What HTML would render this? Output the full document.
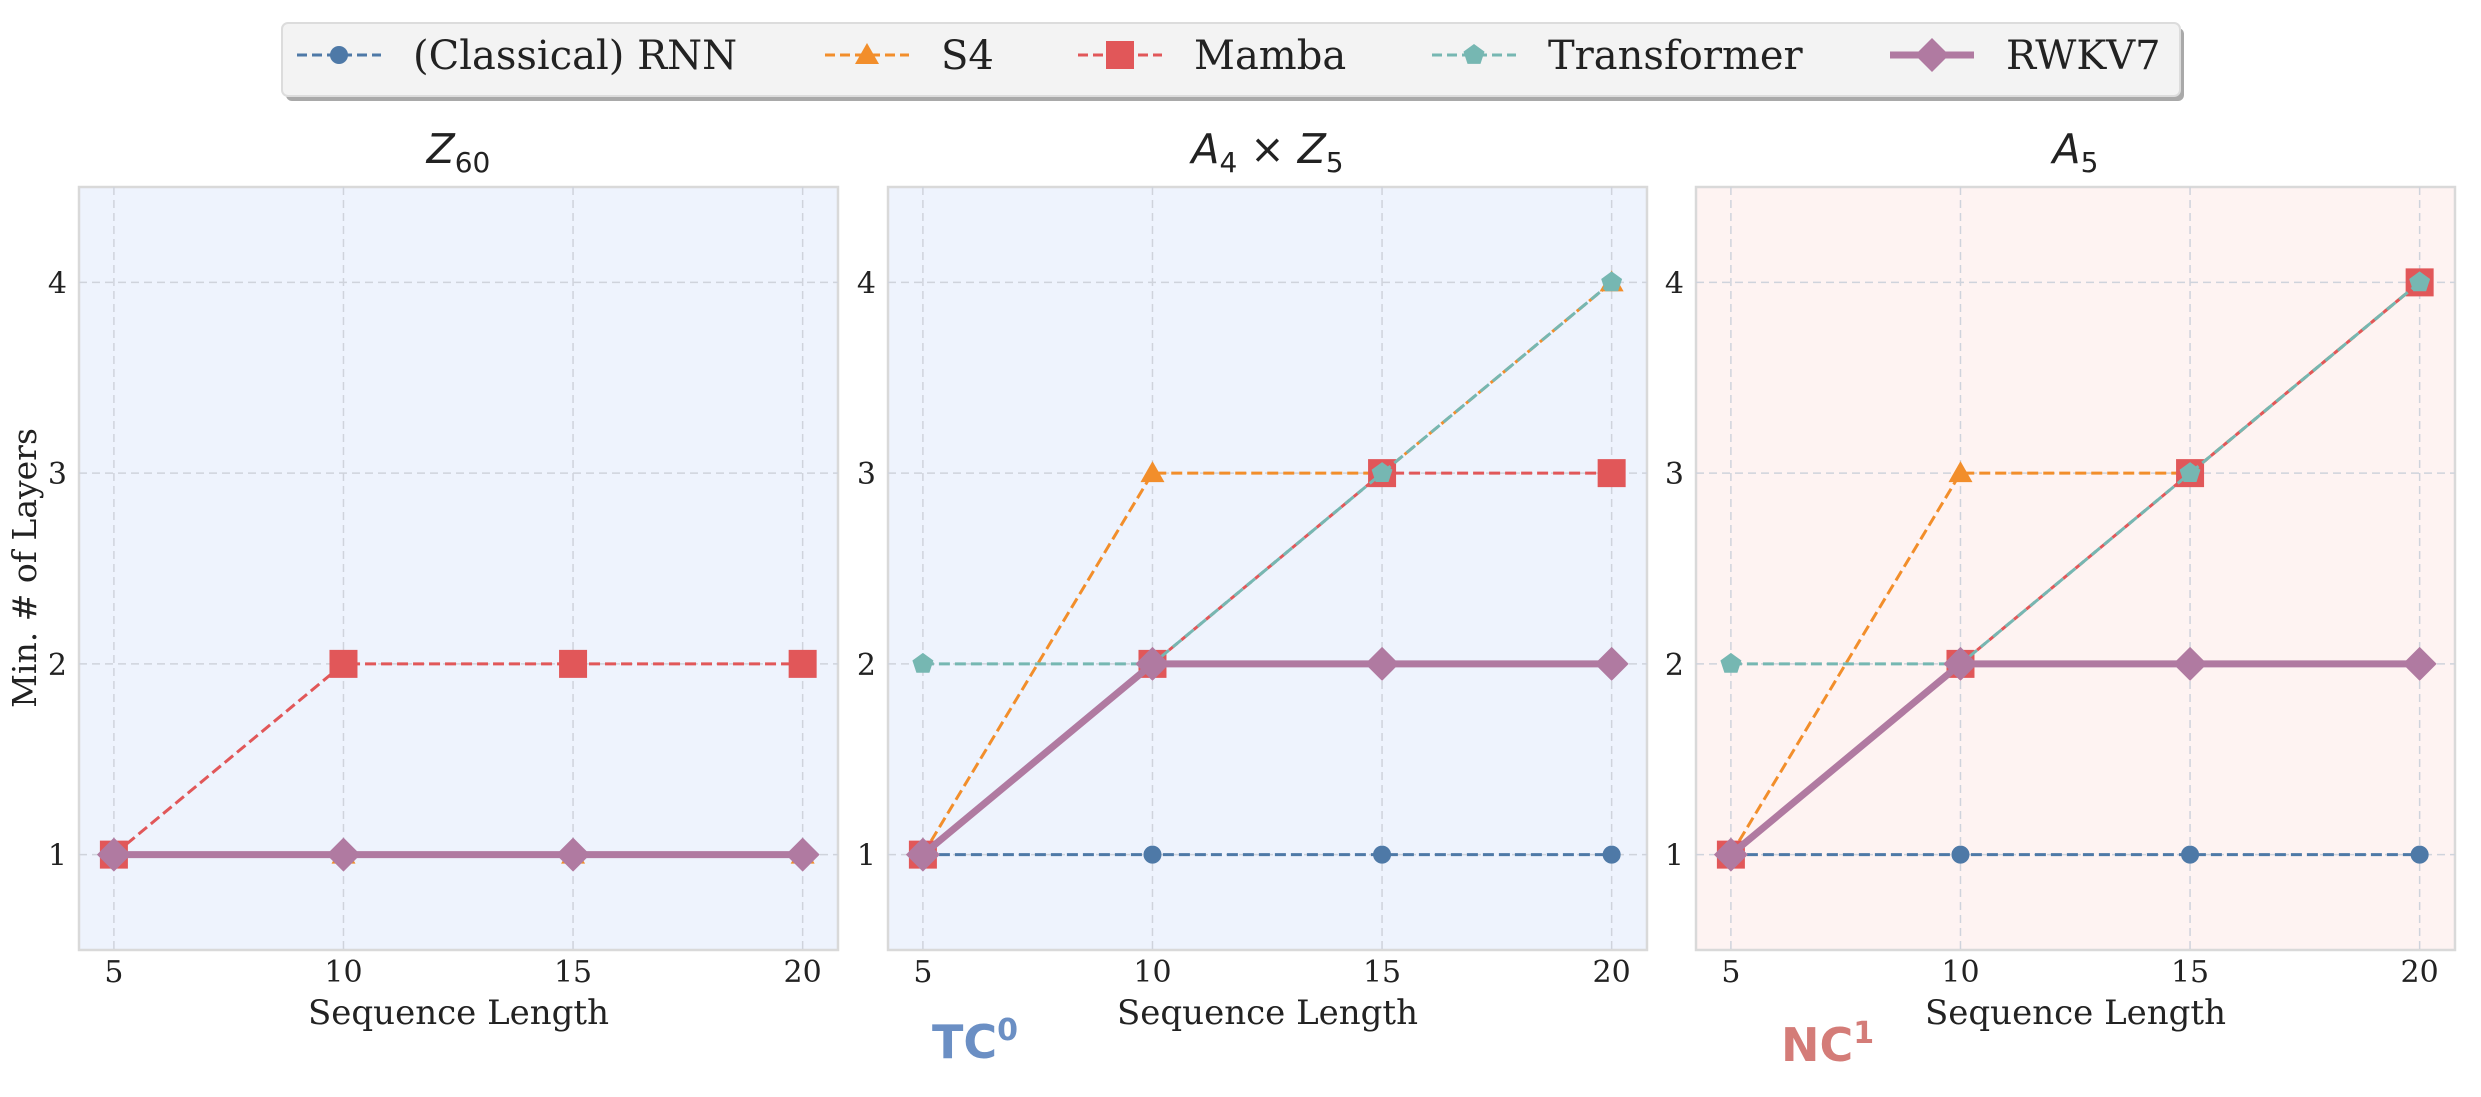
<!DOCTYPE html>
<html><head><meta charset="utf-8"><style>
body{margin:0;background:#fff;}
svg{display:block;}
</style></head><body>
<svg id="chart" width="2481" height="1097" viewBox="0 0 2481 1097" xmlns="http://www.w3.org/2000/svg"></svg>
<script>
const xCategories = [5, 10, 15, 20];
const yTicks = [1, 2, 3, 4];
const panelTitles = ["Z60", "A4xZ5", "A5"];
const seriesNames = ["(Classical) RNN", "S4", "Mamba", "Transformer", "RWKV7"];
const rnnZ60 = [1, 1, 1, 1];
const s4Z60 = [1, 1, 1, 1];
const mambaZ60 = [1, 2, 2, 2];
const transformerZ60 = [1, 1, 1, 1];
const rwkvZ60 = [1, 1, 1, 1];
const rnnA4Z5 = [1, 1, 1, 1];
const s4A4Z5 = [1, 3, 3, 4];
const mambaA4Z5 = [1, 2, 3, 3];
const transformerA4Z5 = [2, 2, 3, 4];
const rwkvA4Z5 = [1, 2, 2, 2];
const rnnA5 = [1, 1, 1, 1];
const s4A5 = [1, 3, 3, 4];
const mambaA5 = [1, 2, 3, 4];
const transformerA5 = [2, 2, 3, 4];
const rwkvA5 = [1, 2, 2, 2];

const NS = "http://www.w3.org/2000/svg";
const svg = document.getElementById("chart");
function mk(tag, attrs, parent) {
  const e = document.createElementNS(NS, tag);
  for (const k in attrs) e.setAttribute(k, attrs[k]);
  (parent || svg).appendChild(e);
  return e;
}
const styles = [
  {c:"#4e79a7", w:3, dash:"11 5", m:"circle", s:9},
  {c:"#f28e2b", w:3, dash:"11 5", m:"triangle", s:12},
  {c:"#e15759", w:3, dash:"11 5", m:"square", s:14},
  {c:"#76b7b2", w:3, dash:"11 5", m:"pentagon", s:11},
  {c:"#b07aa1", w:7, dash:null, m:"diamond", s:17}
];
function marker(g, type, x, y, s, c) {
  let e;
  if (type === "circle") e = mk("circle", {cx:x, cy:y, r:s, fill:c}, g);
  else if (type === "square") e = mk("rect", {x:x-s, y:y-s, width:2*s, height:2*s, fill:c}, g);
  else if (type === "triangle") e = mk("polygon", {points:`${x},${y-s} ${x+s},${y+s*0.75} ${x-s},${y+s*0.75}`, fill:c}, g);
  else if (type === "diamond") e = mk("polygon", {points:`${x},${y-s} ${x+s},${y} ${x},${y+s} ${x-s},${y}`, fill:c}, g);
  else {
    let p = [];
    for (let i = 0; i < 5; i++) { const a = -Math.PI/2 + i*2*Math.PI/5; p.push((x+s*Math.cos(a)).toFixed(1)+","+(y+s*Math.sin(a)).toFixed(1)); }
    e = mk("polygon", {points:p.join(" "), fill:c}, g);
  }
  return e;
}
const panels = [
  {left:79, bg:"#eef3fd", data:[rnnZ60, s4Z60, mambaZ60, transformerZ60, rwkvZ60], name:"z60"},
  {left:888, bg:"#eef3fd", data:[rnnA4Z5, s4A4Z5, mambaA4Z5, transformerA4Z5, rwkvA4Z5], name:"a4xz5"},
  {left:1696, bg:"#fef3f2", data:[rnnA5, s4A5, mambaA5, transformerA5, rwkvA5], name:"a5"}
];
const plotTop = 187, plotBottom = 950, plotW = 759;
const xMin = 4.24, xMax = 20.77, yMin = 0.5, yMax = 4.5;
panels.forEach((p, pi) => {
  const g = mk("g", {});
  
  
  const xs = v => p.left + (v - xMin) / (xMax - xMin) * plotW;
  const ys = v => plotBottom - (v - yMin) / (yMax - yMin) * (plotBottom - plotTop);
  const bg = mk("rect", {x:p.left, y:plotTop, width:plotW, height:plotBottom-plotTop, fill:p.bg, stroke:"#d9d9d9", "stroke-width":2.5}, g);
  
  
  xCategories.forEach(v => {
    const l = mk("line", {x1:xs(v), x2:xs(v), y1:plotTop, y2:plotBottom, stroke:"#cfd3dc", "stroke-width":1.5, "stroke-dasharray":"8 5"}, g);
    
    
    const t = mk("text", {x:xs(v), y:982, "text-anchor":"middle", "font-family":"DejaVu Serif, serif", "font-size":30, fill:"#222"}, g);
    t.textContent = v;
    
    
  });
  yTicks.forEach(v => {
    const l = mk("line", {x1:p.left, x2:p.left+plotW, y1:ys(v), y2:ys(v), stroke:"#cfd3dc", "stroke-width":1.5, "stroke-dasharray":"8 5"}, g);
    
    
    const t = mk("text", {x:p.left-12, y:ys(v)+11, "text-anchor":"end", "font-family":"DejaVu Serif, serif", "font-size":30, fill:"#222"}, g);
    t.textContent = v;
    
    
  });
  const xl = mk("text", {x:p.left+plotW/2, y:1024, "text-anchor":"middle", "font-family":"DejaVu Serif, serif", "font-size":34, fill:"#222"}, g);
  xl.textContent = "Sequence Length";
  
  
  const tt = mk("text", {x:p.left+plotW/2, y:163, "text-anchor":"middle", "font-family":"DejaVu Sans, sans-serif", "font-size":41, fill:"#222"}, g);
  if (pi === 0) tt.innerHTML = '<tspan font-style="italic">Z</tspan><tspan font-size="28" dy="9">60</tspan>';
  else if (pi === 1) tt.innerHTML = '<tspan font-style="italic">A</tspan><tspan font-size="28" dy="9">4</tspan><tspan dy="-9"> × </tspan><tspan font-style="italic">Z</tspan><tspan font-size="28" dy="9">5</tspan>';
  else tt.innerHTML = '<tspan font-style="italic">A</tspan><tspan font-size="28" dy="9">5</tspan>';
  
  
  p.data.forEach((vals, si) => {
    const st = styles[si];
    const sg = mk("g", {}, g);
    
    
    const pts = vals.map((v, i) => xs(xCategories[i]).toFixed(1) + "," + ys(v).toFixed(1)).join(" ");
    const pl = mk("polyline", {points:pts, fill:"none", stroke:st.c, "stroke-width":st.w}, sg);
    if (st.dash) pl.setAttribute("stroke-dasharray", st.dash);
    
    
    vals.forEach((v, i) => {
      const m = marker(sg, st.m, xs(xCategories[i]), ys(v), st.s, st.c);
      
      
    });
  });
});
const yl = mk("text", {x:0, y:0, transform:"translate(36,568) rotate(-90)", "text-anchor":"middle", "font-family":"DejaVu Serif, serif", "font-size":33, fill:"#222"});
yl.textContent = "Min. # of Layers";


const tc = mk("text", {x:932, y:1058, "font-family":"DejaVu Sans, sans-serif", "font-weight":"bold", "font-size":46, fill:"#6b8fc4"});
tc.innerHTML = 'TC<tspan font-size="30" dy="-18">0</tspan>';


const nc = mk("text", {x:1781, y:1061, "font-family":"DejaVu Sans, sans-serif", "font-weight":"bold", "font-size":46, fill:"#d47c78"});
nc.innerHTML = 'NC<tspan font-size="30" dy="-18">1</tspan>';


const lg = mk("g", {});


mk("rect", {x:286, y:28, width:1898, height:73, rx:6, fill:"#a9a9a9"}, lg);
mk("rect", {x:282, y:23, width:1898, height:73, rx:6, fill:"#f3f3f3", stroke:"#dcdcdc", "stroke-width":2}, lg);
const legMarkX = [339, 867, 1120, 1474, 1932];
seriesNames.forEach((n, i) => {
  const st = styles[i];
  const eg = mk("g", {}, lg);
  
  
  const x = legMarkX[i];
  const l = mk("line", {x1:x-42, x2:x+42, y1:55, y2:55, stroke:st.c, "stroke-width":st.w}, eg);
  if (st.dash) l.setAttribute("stroke-dasharray", "10 5");
  marker(eg, st.m, x, 55, st.s, st.c);
  const t = mk("text", {x:x+74, y:69, "font-family":"DejaVu Serif, serif", "font-size":40, fill:"#222"}, eg);
  t.textContent = n;
});
</script>
</body></html>
